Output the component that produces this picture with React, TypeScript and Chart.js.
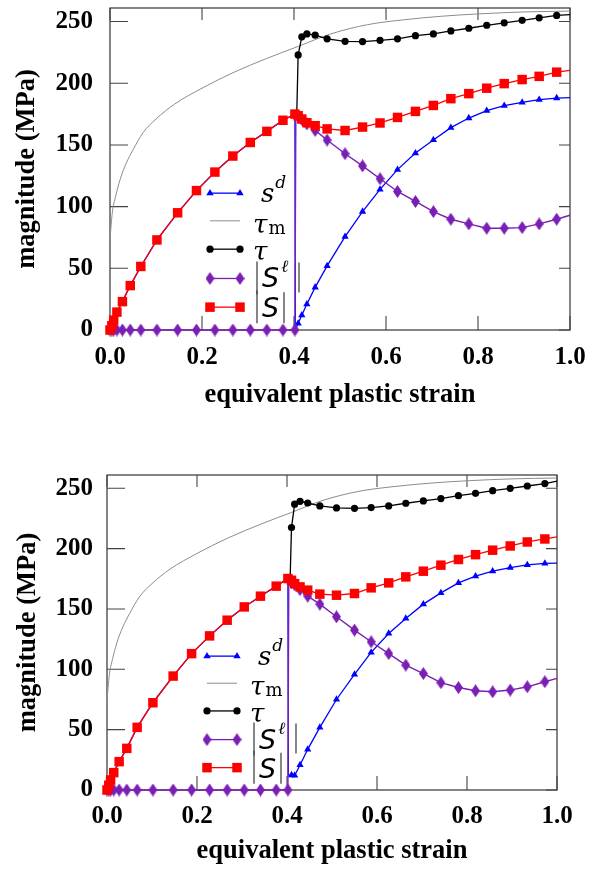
import React, { useEffect, useRef } from "react";
import { Chart, registerables } from "chart.js";

Chart.register(...registerables);

// ---------- axes ----------
const xTicks = [0, 0.2, 0.4, 0.6, 0.8, 1.0];
const yTicks = [0, 50, 100, 150, 200, 250];
const yMax = 261;
const xTitle = "equivalent plastic strain";
const yTitle = "magnitude (MPa)";

// ---------- shared samples ----------
const preStrain = [0, 0.004, 0.008, 0.015, 0.027, 0.044, 0.067, 0.102, 0.147, 0.188, 0.228, 0.267, 0.305, 0.341, 0.376, 0.402];
const slPre = [0, 0, 0, 0, 0, 0, 0, 0, 0, 0, 0, 0, 0, 0, 0, 0];
const tauMStrain = [0, 0.005, 0.012, 0.022, 0.035, 0.05, 0.072, 0.1, 0.14, 0.2, 0.27, 0.34, 0.41, 0.48, 0.56, 0.64, 0.72, 0.8, 0.9, 1.0];
const tauMValues = [74, 95, 108, 122, 135, 146, 160, 171, 183, 196, 209, 220, 230, 240, 247.5, 251.5, 254.3, 256.2, 257.8, 258.5];

// ---------- top panel ----------
const topPostStrain = [0.409, 0.417, 0.428, 0.446, 0.472, 0.511, 0.549, 0.587, 0.625, 0.664, 0.703, 0.741, 0.78, 0.819, 0.857, 0.896, 0.933, 0.971, 1.0];
const topSPre = [0, 3.5, 8, 14.5, 23, 36, 51.5, 73, 95, 113, 128, 141, 152, 161, 170, 175];
const topSPost = [173.7, 171, 168, 165.6, 163, 161.7, 164.5, 167.8, 172.3, 177.2, 182, 187.5, 191.6, 196, 199.7, 203, 205.6, 209, 210.5];
const topSdJump = [0.403, 0];
const topSdPost = [5.4, 12, 21, 34.6, 52, 75.7, 96, 114, 130, 143.4, 154, 164, 171.8, 177.8, 181.8, 184.5, 186.7, 188, 188.3];
const topSlJump = [0.404, 175];
const topSlPost = [173, 170.5, 167, 161.8, 154, 142.9, 133, 122.6, 112.3, 104.2, 96, 89.8, 86, 82.5, 82.5, 83, 86, 89.8, 93];
const topTauJump = [0.406, 175];
const topTauPost = [223, 237.6, 240, 239, 236, 234, 233.8, 234.8, 236, 238.6, 240, 242.4, 244.6, 247, 249, 251, 253, 255, 255.6];

// ---------- bottom panel ----------
const botPostStrain = [0.41, 0.417, 0.429, 0.446, 0.473, 0.51, 0.55, 0.587, 0.626, 0.664, 0.703, 0.742, 0.781, 0.819, 0.857, 0.896, 0.934, 0.973, 1.0];
const botSPre = [0, 4, 8.3, 14.4, 23.5, 34.5, 51.9, 72.3, 94.4, 113, 127.7, 140.7, 151.7, 160.6, 168.9, 175.2];
const botSPost = [173.8, 171, 168.3, 165.6, 162.3, 161.4, 162.8, 167.5, 171.6, 176.6, 181.3, 186.3, 191, 195, 198.7, 202.2, 205.5, 208, 209.7];
const botSdJump = [0.403, 12.4];
const botSdPost = [12.4, 12, 20.7, 33.7, 51.9, 75, 95.8, 114, 129.7, 142.1, 154, 163.3, 171.6, 177.2, 181.3, 184.3, 186.5, 187.7, 188];
const botSlJump = [0.404, 175];
const botSlPost = [172, 170, 166, 160.6, 154, 143.5, 132.5, 122.8, 113, 103.5, 96.5, 88.9, 84.9, 82.2, 81.4, 82.8, 85.5, 89.7, 92.5];
const botTauJump = [0.407, 175];
const botTauPost = [217.5, 236.8, 239.2, 237.8, 235.4, 233.7, 233.4, 234, 235.4, 237.6, 239.5, 241.5, 243.9, 245.8, 248, 250, 251.9, 253.9, 256];

const BLUE = "#0000ff";
const GRAY = "#8c8c8c";
const BLACK = "#000000";
const PURPLE = "#7a1fb4";
const RED = "#ff0000";
const AXIS_FONT = '"Liberation Serif"';

type Pt = { x: number; y: number; mark: boolean };

function pts(xs: number[], ys: number[], mark = true): Pt[] {
  return xs.map((x, i) => ({ x, y: ys[i], mark: mark && x < 1 }));
}

type PanelData = {
  preS: number[];
  postStrain: number[];
  sPost: number[];
  sdJump: number[];
  sdPost: number[];
  slJump: number[];
  slPost: number[];
  tauJump: number[];
  tauPost: number[];
};

type PanelLayout = {
  padTop: number;
  padRight: number;
  yAxisWidth: number;
  xAxisHeight: number;
  yTickPad: number;
  xTickPad: number;
  yTitlePad: number;
  xTitlePad: number;
};

const topData: PanelData = {
  preS: topSPre, postStrain: topPostStrain, sPost: topSPost,
  sdJump: topSdJump, sdPost: topSdPost, slJump: topSlJump, slPost: topSlPost,
  tauJump: topTauJump, tauPost: topTauPost,
};
const botData: PanelData = {
  preS: botSPre, postStrain: botPostStrain, sPost: botSPost,
  sdJump: botSdJump, sdPost: botSdPost, slJump: botSlJump, slPost: botSlPost,
  tauJump: botTauJump, tauPost: botTauPost,
};

const topLayout: PanelLayout = { padTop: 8, padRight: 20, yAxisWidth: 110, xAxisHeight: 105, yTickPad: 17, xTickPad: 12.5, yTitlePad: 11.5, xTitlePad: 23.5 };
const botLayout: PanelLayout = { padTop: 40, padRight: 33, yAxisWidth: 107, xAxisHeight: 80, yTickPad: 14, xTickPad: 12, yTitlePad: 12.5, xTitlePad: 2.5 };

function makeDiamond(color: string, w: number, h: number) {
  const c = document.createElement("canvas");
  c.width = w;
  c.height = h;
  const g = c.getContext("2d")!;
  g.fillStyle = color;
  g.beginPath();
  g.moveTo(w / 2, 0);
  g.lineTo(w, h / 2);
  g.lineTo(w / 2, h);
  g.lineTo(0, h / 2);
  g.closePath();
  g.fill();
  return c;
}

const frameTicksPlugin = {
  id: "frameTicks",
  beforeDatasetsDraw(chart: any) {
    const { ctx, chartArea, scales } = chart;
    const { left, right, top, bottom } = chartArea;
    ctx.save();
    ctx.strokeStyle = "#333";
    ctx.lineWidth = 1.2;
    ctx.strokeRect(left, top, right - left, bottom - top);
    ctx.strokeStyle = "#444";
    ctx.lineWidth = 1.1;
    ctx.beginPath();
    for (const t of scales.x.ticks) {
      const px = scales.x.getPixelForValue(t.value);
      ctx.moveTo(px, bottom);
      ctx.lineTo(px, bottom - 14);
      ctx.moveTo(px, top);
      ctx.lineTo(px, top + 12);
    }
    for (const t of scales.y.ticks) {
      const py = scales.y.getPixelForValue(t.value);
      ctx.moveTo(left, py);
      ctx.lineTo(left + 18, py);
      ctx.moveTo(right, py);
      ctx.lineTo(right - 11, py);
    }
    ctx.stroke();
    ctx.restore();
  },
};

function legendPlugin(diamond: HTMLCanvasElement) {
  return {
    id: "mathLegend",
    afterDatasetsDraw(chart: any) {
      const { ctx, chartArea } = chart;
      const { left, top, bottom } = chartArea;
      const h = bottom - top;
      const rows = [0.425, 0.339, 0.251, 0.16, 0.071].map((f) => bottom - f * h);
      const x1 = left + 100;
      const x2 = left + 130;
      ctx.save();
      const seg = (y: number, color: string, w: number) => {
        ctx.strokeStyle = color;
        ctx.lineWidth = w;
        ctx.beginPath();
        ctx.moveTo(x1, y);
        ctx.lineTo(x2, y);
        ctx.stroke();
      };
      // s^d
      let y = rows[0];
      seg(y, BLUE, 1.3);
      ctx.fillStyle = BLUE;
      for (const x of [x1, x2]) {
        ctx.beginPath();
        ctx.moveTo(x, y - 4.2);
        ctx.lineTo(x + 3.7, y + 2.1);
        ctx.lineTo(x - 3.7, y + 2.1);
        ctx.closePath();
        ctx.fill();
      }
      ctx.fillStyle = "#000";
      ctx.textBaseline = "alphabetic";
      ctx.textAlign = "left";
      ctx.font = 'italic 26px "DejaVu Serif"';
      const sx = left + 151;
      ctx.fillText("s", sx, y + 9);
      const sw = ctx.measureText("s").width;
      ctx.font = 'italic 17px "DejaVu Serif"';
      ctx.fillText("d", sx + sw + 1, y - 5);
      // tau_m
      y = rows[1];
      seg(y, GRAY, 1);
      ctx.fillStyle = "#000";
      ctx.font = 'italic 26px "DejaVu Serif"';
      const tx = left + 143;
      ctx.fillText("τ", tx, y + 12);
      const tw = ctx.measureText("τ").width;
      ctx.font = '18px "DejaVu Serif"';
      ctx.fillText("m", tx + tw + 1, y + 13);
      // tau
      y = rows[2];
      seg(y, BLACK, 1.3);
      ctx.fillStyle = BLACK;
      for (const x of [x1, x2]) {
        ctx.beginPath();
        ctx.arc(x, y, 3.6, 0, Math.PI * 2);
        ctx.fill();
      }
      ctx.font = 'italic 26px "DejaVu Serif"';
      ctx.fillText("τ", tx, y + 11);
      // |S^l|
      y = rows[3];
      seg(y, PURPLE, 1.3);
      for (const x of [x1, x2]) {
        ctx.drawImage(diamond, x - diamond.width / 2, y - diamond.height / 2);
      }
      const bar = (x: number, ya: number, yb: number) => {
        ctx.strokeStyle = "#444";
        ctx.lineWidth = 1.3;
        ctx.beginPath();
        ctx.moveTo(x, ya);
        ctx.lineTo(x, yb);
        ctx.stroke();
      };
      bar(left + 147, y - 17, y + 16);
      ctx.fillStyle = "#000";
      ctx.font = 'oblique 27px "DejaVu Sans"';
      const Sx = left + 152;
      ctx.fillText("S", Sx, y + 9);
      const Sw = ctx.measureText("S").width;
      ctx.font = 'italic 17px "DejaVu Serif"';
      ctx.fillText("ℓ", Sx + Sw + 2, y - 6);
      bar(left + 189, y - 16, y + 14);
      // |S|
      y = rows[4];
      seg(y, RED, 1.3);
      ctx.fillStyle = RED;
      for (const x of [x1, x2]) {
        ctx.fillRect(x - 4.75, y - 4.75, 9.5, 9.5);
      }
      bar(left + 147, y - 17, y + 16);
      ctx.fillStyle = "#000";
      ctx.font = 'oblique 27px "DejaVu Sans"';
      ctx.fillText("S", Sx, y + 10);
      bar(left + 174, y - 15, y + 16);
      ctx.restore();
    },
  };
}

function Panel({ data, layout }: { data: PanelData; layout: PanelLayout }) {
  const ref = useRef<HTMLCanvasElement | null>(null);
  useEffect(() => {
    const canvas = ref.current!;
    const diamond = makeDiamond(PURPLE, 9, 13);
    const markR = (r: number) => (ctx: any) => (ctx.raw && ctx.raw.mark ? r : 0);

    const sd: Pt[] = [
      ...pts(preStrain, data.preS),
      { x: data.sdJump[0], y: data.sdJump[1], mark: false },
      ...pts(data.postStrain, data.sdPost),
    ];
    const sl: Pt[] = [
      ...pts(preStrain, slPre),
      { x: data.slJump[0], y: data.slJump[1], mark: false },
      ...pts(data.postStrain, data.slPost),
    ];
    const tau: Pt[] = [
      { x: data.tauJump[0], y: data.tauJump[1], mark: true },
      ...pts(data.postStrain, data.tauPost),
    ];
    const sAbs: Pt[] = [...pts(preStrain, data.preS), ...pts(data.postStrain, data.sPost)];
    const tauM: Pt[] = pts(tauMStrain, tauMValues, false);

    const tickFont = { family: AXIS_FONT, weight: "bold" as const, size: 25 };
    const titleFont = { family: AXIS_FONT, weight: "bold" as const, size: 26.5 };

    const chart = new Chart(canvas, {
      type: "line",
      data: {
        datasets: [
          {
            label: "s^d", data: sd as any, borderColor: BLUE, backgroundColor: BLUE,
            borderWidth: 1.3, pointStyle: "triangle", pointRadius: markR(4.2) as any,
            pointBorderWidth: 0, pointBackgroundColor: BLUE, order: 4, clip: false as any,
          },
          {
            label: "tau_m", data: tauM as any, borderColor: GRAY, borderWidth: 1,
            pointRadius: 0, cubicInterpolationMode: "monotone", order: 3, clip: false as any,
          },
          {
            label: "tau", data: tau as any, borderColor: BLACK, backgroundColor: BLACK,
            borderWidth: 1.3, pointStyle: "circle", pointRadius: markR(3.6) as any,
            pointBorderWidth: 0, pointBackgroundColor: BLACK, order: 2, clip: false as any,
          },
          {
            label: "|S^l|", data: sl as any, borderColor: PURPLE, backgroundColor: PURPLE,
            borderWidth: 1.4, pointStyle: diamond as any, pointRadius: markR(5) as any,
            pointBorderWidth: 0, order: 1, clip: false as any,
          },
          {
            label: "|S|", data: sAbs as any, borderColor: RED, backgroundColor: RED,
            borderWidth: 1.3, pointStyle: "rect", pointRadius: markR(6.7) as any,
            pointBorderWidth: 0, pointBackgroundColor: RED, order: 0, clip: false as any,
          },
        ],
      },
      options: {
        animation: false,
        responsive: false,
        devicePixelRatio: 1,
        layout: { padding: { left: 0, top: layout.padTop, right: layout.padRight, bottom: 0 } },
        plugins: { legend: { display: false }, tooltip: { enabled: false } },
        elements: { line: { tension: 0 } },
        scales: {
          x: {
            type: "linear",
            min: 0,
            max: 1,
            afterBuildTicks: (s: any) => { s.ticks = xTicks.map((v) => ({ value: v })); },
            afterFit: (s: any) => {
              s.height = layout.xAxisHeight;
              s.paddingLeft = 0; s.paddingRight = 0; s.paddingTop = 0; s.paddingBottom = 0;
            },
            grid: { display: false, drawTicks: false },
            border: { display: false },
            ticks: {
              font: tickFont, color: "#000", padding: layout.xTickPad, maxRotation: 0,
              callback: (v: any) => Number(v).toFixed(1),
            },
            title: {
              display: true, text: xTitle, font: titleFont, color: "#000",
              padding: { top: 0, bottom: layout.xTitlePad },
            },
          },
          y: {
            type: "linear",
            min: 0,
            max: yMax,
            afterBuildTicks: (s: any) => { s.ticks = yTicks.map((v) => ({ value: v })); },
            afterFit: (s: any) => {
              s.width = layout.yAxisWidth;
              s.paddingLeft = 0; s.paddingRight = 0; s.paddingTop = 0; s.paddingBottom = 0;
            },
            grid: { display: false, drawTicks: false },
            border: { display: false },
            ticks: {
              font: tickFont, color: "#000", padding: layout.yTickPad,
              callback: (v: any) => String(Math.round(Number(v))),
            },
            title: {
              display: true, text: yTitle, font: titleFont, color: "#000",
              padding: { top: layout.yTitlePad, bottom: 0 },
            },
          },
        },
      },
      plugins: [frameTicksPlugin, legendPlugin(diamond)],
    });
    return () => chart.destroy();
  }, [data, layout]);
  return <canvas ref={ref} width={590} height={435} style={{ display: "block", width: 590, height: 435 }} />;
}

export default function App() {
  return (
    <div style={{ position: "absolute", left: 0, top: 0, width: 590, height: 870, background: "#fff" }}>
      <Panel data={topData} layout={topLayout} />
      <Panel data={botData} layout={botLayout} />
    </div>
  );
}
